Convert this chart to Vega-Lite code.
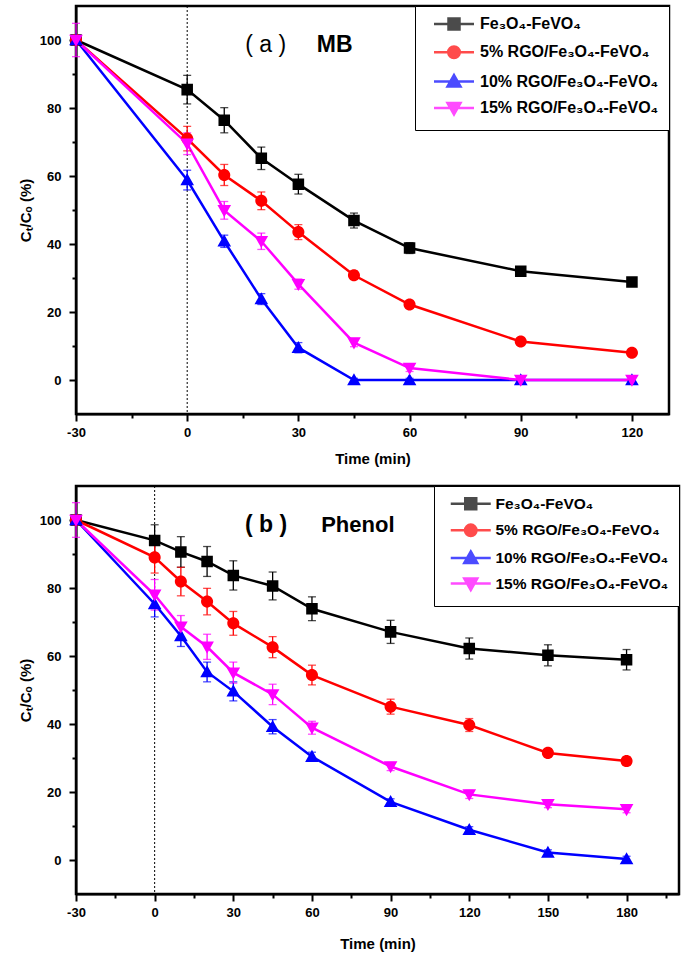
{
  "$schema": "https://vega.github.io/schema/vega-lite/v6.json",
  "padding": {"left": 17, "top": 4, "right": 5, "bottom": 4},
  "spacing": 16,
  "datasets": {
    "mb": [
      {"t": -30, "v": 100, "e": 0.8, "s": "Fe₃O₄-FeVO₄"},
      {"t": 0, "v": 85.4, "e": 4.2, "s": "Fe₃O₄-FeVO₄"},
      {"t": 10, "v": 76.4, "e": 3.7, "s": "Fe₃O₄-FeVO₄"},
      {"t": 20, "v": 65.2, "e": 3.3, "s": "Fe₃O₄-FeVO₄"},
      {"t": 30, "v": 57.6, "e": 2.9, "s": "Fe₃O₄-FeVO₄"},
      {"t": 45, "v": 46.9, "e": 2.2, "s": "Fe₃O₄-FeVO₄"},
      {"t": 60, "v": 38.8, "e": 1.6, "s": "Fe₃O₄-FeVO₄"},
      {"t": 90, "v": 32.0, "e": 1.2, "s": "Fe₃O₄-FeVO₄"},
      {"t": 120, "v": 28.8, "e": 1.1, "s": "Fe₃O₄-FeVO₄"},
      {"t": -30, "v": 100, "e": 0.8, "s": "5% RGO/Fe₃O₄-FeVO₄"},
      {"t": 0, "v": 71.0, "e": 3.6, "s": "5% RGO/Fe₃O₄-FeVO₄"},
      {"t": 10, "v": 60.3, "e": 3.1, "s": "5% RGO/Fe₃O₄-FeVO₄"},
      {"t": 20, "v": 52.7, "e": 2.6, "s": "5% RGO/Fe₃O₄-FeVO₄"},
      {"t": 30, "v": 43.5, "e": 2.2, "s": "5% RGO/Fe₃O₄-FeVO₄"},
      {"t": 45, "v": 30.8, "e": 1.2, "s": "5% RGO/Fe₃O₄-FeVO₄"},
      {"t": 60, "v": 22.2, "e": 1.0, "s": "5% RGO/Fe₃O₄-FeVO₄"},
      {"t": 90, "v": 11.3, "e": 1.1, "s": "5% RGO/Fe₃O₄-FeVO₄"},
      {"t": 120, "v": 8.0, "e": 1.0, "s": "5% RGO/Fe₃O₄-FeVO₄"},
      {"t": -30, "v": 100, "e": 0.8, "s": "10% RGO/Fe₃O₄-FeVO₄"},
      {"t": 0, "v": 58.8, "e": 2.9, "s": "10% RGO/Fe₃O₄-FeVO₄"},
      {"t": 10, "v": 40.8, "e": 1.8, "s": "10% RGO/Fe₃O₄-FeVO₄"},
      {"t": 20, "v": 23.8, "e": 1.6, "s": "10% RGO/Fe₃O₄-FeVO₄"},
      {"t": 30, "v": 9.5, "e": 1.5, "s": "10% RGO/Fe₃O₄-FeVO₄"},
      {"t": 45, "v": 0, "e": 0.5, "s": "10% RGO/Fe₃O₄-FeVO₄"},
      {"t": 60, "v": 0, "e": 0.5, "s": "10% RGO/Fe₃O₄-FeVO₄"},
      {"t": 90, "v": 0, "e": 0.5, "s": "10% RGO/Fe₃O₄-FeVO₄"},
      {"t": 120, "v": 0, "e": 0.5, "s": "10% RGO/Fe₃O₄-FeVO₄"},
      {"t": -30, "v": 100, "e": 4.9, "s": "15% RGO/Fe₃O₄-FeVO₄"},
      {"t": 0, "v": 69.5, "e": 3.2, "s": "15% RGO/Fe₃O₄-FeVO₄"},
      {"t": 10, "v": 49.9, "e": 2.6, "s": "15% RGO/Fe₃O₄-FeVO₄"},
      {"t": 20, "v": 40.8, "e": 2.4, "s": "15% RGO/Fe₃O₄-FeVO₄"},
      {"t": 30, "v": 28.2, "e": 1.5, "s": "15% RGO/Fe₃O₄-FeVO₄"},
      {"t": 45, "v": 11.0, "e": 1.2, "s": "15% RGO/Fe₃O₄-FeVO₄"},
      {"t": 60, "v": 3.5, "e": 1.0, "s": "15% RGO/Fe₃O₄-FeVO₄"},
      {"t": 90, "v": 0, "e": 0.8, "s": "15% RGO/Fe₃O₄-FeVO₄"},
      {"t": 120, "v": 0, "e": 0.8, "s": "15% RGO/Fe₃O₄-FeVO₄"}
    ],
    "ph": [
      {"t": -30, "v": 100, "e": 1.0, "s": "Fe₃O₄-FeVO₄"},
      {"t": 0, "v": 94.0, "e": 4.6, "s": "Fe₃O₄-FeVO₄"},
      {"t": 10, "v": 90.6, "e": 4.5, "s": "Fe₃O₄-FeVO₄"},
      {"t": 20, "v": 87.8, "e": 4.4, "s": "Fe₃O₄-FeVO₄"},
      {"t": 30, "v": 83.7, "e": 4.3, "s": "Fe₃O₄-FeVO₄"},
      {"t": 45, "v": 80.6, "e": 4.1, "s": "Fe₃O₄-FeVO₄"},
      {"t": 60, "v": 73.9, "e": 3.5, "s": "Fe₃O₄-FeVO₄"},
      {"t": 90, "v": 67.1, "e": 3.4, "s": "Fe₃O₄-FeVO₄"},
      {"t": 120, "v": 62.2, "e": 3.1, "s": "Fe₃O₄-FeVO₄"},
      {"t": 150, "v": 60.2, "e": 3.1, "s": "Fe₃O₄-FeVO₄"},
      {"t": 180, "v": 58.9, "e": 3.0, "s": "Fe₃O₄-FeVO₄"},
      {"t": -30, "v": 100, "e": 1.0, "s": "5% RGO/Fe₃O₄-FeVO₄"},
      {"t": 0, "v": 89.0, "e": 4.6, "s": "5% RGO/Fe₃O₄-FeVO₄"},
      {"t": 10, "v": 81.9, "e": 4.2, "s": "5% RGO/Fe₃O₄-FeVO₄"},
      {"t": 20, "v": 76.0, "e": 3.9, "s": "5% RGO/Fe₃O₄-FeVO₄"},
      {"t": 30, "v": 69.6, "e": 3.5, "s": "5% RGO/Fe₃O₄-FeVO₄"},
      {"t": 45, "v": 62.6, "e": 3.1, "s": "5% RGO/Fe₃O₄-FeVO₄"},
      {"t": 60, "v": 54.4, "e": 2.9, "s": "5% RGO/Fe₃O₄-FeVO₄"},
      {"t": 90, "v": 45.1, "e": 2.2, "s": "5% RGO/Fe₃O₄-FeVO₄"},
      {"t": 120, "v": 39.7, "e": 1.9, "s": "5% RGO/Fe₃O₄-FeVO₄"},
      {"t": 150, "v": 31.5, "e": 1.2, "s": "5% RGO/Fe₃O₄-FeVO₄"},
      {"t": 180, "v": 29.1, "e": 1.2, "s": "5% RGO/Fe₃O₄-FeVO₄"},
      {"t": -30, "v": 100, "e": 1.0, "s": "10% RGO/Fe₃O₄-FeVO₄"},
      {"t": 0, "v": 75.3, "e": 3.8, "s": "10% RGO/Fe₃O₄-FeVO₄"},
      {"t": 10, "v": 65.9, "e": 3.1, "s": "10% RGO/Fe₃O₄-FeVO₄"},
      {"t": 20, "v": 55.3, "e": 2.9, "s": "10% RGO/Fe₃O₄-FeVO₄"},
      {"t": 30, "v": 49.6, "e": 2.8, "s": "10% RGO/Fe₃O₄-FeVO₄"},
      {"t": 45, "v": 39.2, "e": 2.1, "s": "10% RGO/Fe₃O₄-FeVO₄"},
      {"t": 60, "v": 30.4, "e": 1.3, "s": "10% RGO/Fe₃O₄-FeVO₄"},
      {"t": 90, "v": 17.1, "e": 0.9, "s": "10% RGO/Fe₃O₄-FeVO₄"},
      {"t": 120, "v": 8.9, "e": 0.9, "s": "10% RGO/Fe₃O₄-FeVO₄"},
      {"t": 150, "v": 2.2, "e": 0.8, "s": "10% RGO/Fe₃O₄-FeVO₄"},
      {"t": 180, "v": 0.3, "e": 0.8, "s": "10% RGO/Fe₃O₄-FeVO₄"},
      {"t": -30, "v": 100, "e": 5.1, "s": "15% RGO/Fe₃O₄-FeVO₄"},
      {"t": 0, "v": 78.0, "e": 4.5, "s": "15% RGO/Fe₃O₄-FeVO₄"},
      {"t": 10, "v": 68.6, "e": 3.3, "s": "15% RGO/Fe₃O₄-FeVO₄"},
      {"t": 20, "v": 62.7, "e": 3.7, "s": "15% RGO/Fe₃O₄-FeVO₄"},
      {"t": 30, "v": 55.1, "e": 3.1, "s": "15% RGO/Fe₃O₄-FeVO₄"},
      {"t": 45, "v": 48.7, "e": 3.0, "s": "15% RGO/Fe₃O₄-FeVO₄"},
      {"t": 60, "v": 38.9, "e": 1.9, "s": "15% RGO/Fe₃O₄-FeVO₄"},
      {"t": 90, "v": 27.5, "e": 1.2, "s": "15% RGO/Fe₃O₄-FeVO₄"},
      {"t": 120, "v": 19.3, "e": 1.2, "s": "15% RGO/Fe₃O₄-FeVO₄"},
      {"t": 150, "v": 16.4, "e": 1.0, "s": "15% RGO/Fe₃O₄-FeVO₄"},
      {"t": 180, "v": 14.9, "e": 1.0, "s": "15% RGO/Fe₃O₄-FeVO₄"}
    ]
  },
  "resolve": {
    "scale": {"x": "independent", "y": "independent", "color": "independent", "shape": "independent"},
    "legend": {"color": "independent", "shape": "independent"}
  },
  "vconcat": [
    {
      "width": 593,
      "height": 408,
      "layer": [
        {
          "data": {"values": [{"t": 0}]},
          "mark": {"type": "rule", "color": "black", "strokeWidth": 1, "strokeDash": [2, 2]},
          "encoding": {"x": {"field": "t", "type": "quantitative", "title": "Time (min)"}}
        },
        {
          "data": {"name": "mb"},
          "mark": {"type": "line", "strokeWidth": 2.5},
          "encoding": {
            "x": {"field": "t", "type": "quantitative", "title": "Time (min)",
              "scale": {"domain": [-30, 130], "nice": false, "zero": false},
              "axis": {"values": [-30, -15, 0, 15, 30, 45, 60, 75, 90, 105, 120], "labelExpr": "datum.value % 30 == 0 ? '' + datum.value : ''", "tickSize": {"condition": {"test": "datum.value % 30 != 0", "value": 4}, "value": 7}, "labelPadding": 5, "titlePadding": 12, "labelFlush": false}},
            "y": {"field": "v", "type": "quantitative", "title": "Cₜ/Cₒ (%)",
              "scale": {"domain": [-10, 110], "nice": false, "zero": false},
              "axis": {"values": [0, 10, 20, 30, 40, 50, 60, 70, 80, 90, 100], "labelExpr": "datum.value % 20 == 0 ? datum.label : ''", "tickSize": {"condition": {"test": "datum.value % 20 != 0", "value": 4}, "value": 7}, "labelPadding": 8, "titlePadding": 6, "labelFlush": false}},
            "color": {"field": "s", "type": "nominal",
              "scale": {"domain": ["Fe₃O₄-FeVO₄", "5% RGO/Fe₃O₄-FeVO₄", "10% RGO/Fe₃O₄-FeVO₄", "15% RGO/Fe₃O₄-FeVO₄"], "range": ["#000000", "#ff0000", "#0000ff", "#ff00ff"]},
              "legend": {"title": null, "orient": "top-right", "offset": 0, "fillColor": "white", "strokeColor": "black", "padding": 10, "labelFont": "Liberation Sans", "labelFontSize": 16, "labelFontWeight": "bold", "labelColor": "black", "rowPadding": 6.3, "symbolOffset": 21, "labelOffset": 18, "symbolSize": 100, "symbolStrokeWidth": 2.5, "symbolOpacity": 1, "labelLimit": 400}
            }
          }
        },
        {
          "data": {"name": "mb"},
          "mark": {"type": "errorbar", "ticks": {"size": 8}, "thickness": 1.3},
          "encoding": {
            "x": {"field": "t", "type": "quantitative", "title": "Time (min)"},
            "y": {"field": "v", "type": "quantitative", "title": "Cₜ/Cₒ (%)"},
            "yError": {"field": "e"},
            "color": {"field": "s", "type": "nominal"}
          }
        },
        {
          "data": {"name": "mb"},
          "mark": {"type": "point", "filled": true, "opacity": 1, "size": 110, "strokeWidth": 0},
          "encoding": {
            "x": {"field": "t", "type": "quantitative", "title": "Time (min)"},
            "y": {"field": "v", "type": "quantitative", "title": "Cₜ/Cₒ (%)"},
            "color": {"field": "s", "type": "nominal"},
            "shape": {"field": "s", "type": "nominal",
              "scale": {"domain": ["Fe₃O₄-FeVO₄", "5% RGO/Fe₃O₄-FeVO₄", "10% RGO/Fe₃O₄-FeVO₄", "15% RGO/Fe₃O₄-FeVO₄"], "range": ["M-4,0L4,0M-1.1,-1.1L1.1,-1.1L1.1,1.1L-1.1,1.1Z", "M-4,0L4,0M1.15,0A1.15,1.15,0,1,1,-1.15,0A1.15,1.15,0,1,1,1.15,0Z", "M-4,0L4,0M0,-1.3L1.3,1L-1.3,1Z", "M-4,0L4,0M0,1.3L1.3,-1L-1.3,-1Z"]}}
          }
        },
        {
          "data": {"values": [{"t": 21.2, "v": 98.5, "label": "( a )"}]},
          "mark": {"type": "text", "font": "Liberation Sans", "fontSize": 23, "fontWeight": "normal", "color": "black", "baseline": "middle", "align": "center"},
          "encoding": {
            "x": {"field": "t", "type": "quantitative", "title": "Time (min)"},
            "y": {"field": "v", "type": "quantitative", "title": "Cₜ/Cₒ (%)"},
            "text": {"field": "label"}
          }
        },
        {
          "data": {"values": [{"t": 39.8, "v": 98.5, "label": "MB"}]},
          "mark": {"type": "text", "font": "Liberation Sans", "fontSize": 23, "fontWeight": "bold", "color": "black", "baseline": "middle", "align": "center"},
          "encoding": {
            "x": {"field": "t", "type": "quantitative", "title": "Time (min)"},
            "y": {"field": "v", "type": "quantitative", "title": "Cₜ/Cₒ (%)"},
            "text": {"field": "label"}
          }
        }
      ]
    },
    {
      "width": 603,
      "height": 408,
      "layer": [
        {
          "data": {"values": [{"t": 0}]},
          "mark": {"type": "rule", "color": "black", "strokeWidth": 1, "strokeDash": [2, 2]},
          "encoding": {"x": {"field": "t", "type": "quantitative", "title": "Time (min)"}}
        },
        {
          "data": {"name": "ph"},
          "mark": {"type": "line", "strokeWidth": 2.5},
          "encoding": {
            "x": {"field": "t", "type": "quantitative", "title": "Time (min)",
              "scale": {"domain": [-30, 200], "nice": false, "zero": false},
              "axis": {"values": [-30, -15, 0, 15, 30, 45, 60, 75, 90, 105, 120, 135, 150, 165, 180, 195], "labelExpr": "datum.value % 30 == 0 ? '' + datum.value : ''", "tickSize": {"condition": {"test": "datum.value % 30 != 0", "value": 4}, "value": 7}, "labelPadding": 5, "titlePadding": 17, "labelFlush": false}},
            "y": {"field": "v", "type": "quantitative", "title": "Cₜ/Cₒ (%)",
              "scale": {"domain": [-10, 110], "nice": false, "zero": false},
              "axis": {"values": [0, 10, 20, 30, 40, 50, 60, 70, 80, 90, 100], "labelExpr": "datum.value % 20 == 0 ? datum.label : ''", "tickSize": {"condition": {"test": "datum.value % 20 != 0", "value": 4}, "value": 7}, "labelPadding": 8, "titlePadding": 6, "labelFlush": false}},
            "color": {"field": "s", "type": "nominal",
              "scale": {"domain": ["Fe₃O₄-FeVO₄", "5% RGO/Fe₃O₄-FeVO₄", "10% RGO/Fe₃O₄-FeVO₄", "15% RGO/Fe₃O₄-FeVO₄"], "range": ["#000000", "#ff0000", "#0000ff", "#ff00ff"]},
              "legend": {"title": null, "orient": "top-right", "offset": 0, "fillColor": "white", "strokeColor": "black", "padding": 10, "labelFont": "Liberation Sans", "labelFontSize": 15.5, "labelFontWeight": "bold", "labelColor": "black", "rowPadding": 4.6, "symbolOffset": 19, "labelOffset": 17, "symbolSize": 100, "symbolStrokeWidth": 2.5, "symbolOpacity": 1, "labelLimit": 400}
            }
          }
        },
        {
          "data": {"name": "ph"},
          "mark": {"type": "errorbar", "ticks": {"size": 8}, "thickness": 1.3},
          "encoding": {
            "x": {"field": "t", "type": "quantitative", "title": "Time (min)"},
            "y": {"field": "v", "type": "quantitative", "title": "Cₜ/Cₒ (%)"},
            "yError": {"field": "e"},
            "color": {"field": "s", "type": "nominal"}
          }
        },
        {
          "data": {"name": "ph"},
          "mark": {"type": "point", "filled": true, "opacity": 1, "size": 110, "strokeWidth": 0},
          "encoding": {
            "x": {"field": "t", "type": "quantitative", "title": "Time (min)"},
            "y": {"field": "v", "type": "quantitative", "title": "Cₜ/Cₒ (%)"},
            "color": {"field": "s", "type": "nominal"},
            "shape": {"field": "s", "type": "nominal",
              "scale": {"domain": ["Fe₃O₄-FeVO₄", "5% RGO/Fe₃O₄-FeVO₄", "10% RGO/Fe₃O₄-FeVO₄", "15% RGO/Fe₃O₄-FeVO₄"], "range": ["M-4,0L4,0M-1.1,-1.1L1.1,-1.1L1.1,1.1L-1.1,1.1Z", "M-4,0L4,0M1.15,0A1.15,1.15,0,1,1,-1.15,0A1.15,1.15,0,1,1,1.15,0Z", "M-4,0L4,0M0,-1.3L1.3,1L-1.3,1Z", "M-4,0L4,0M0,1.3L1.3,-1L-1.3,-1Z"]}}
          }
        },
        {
          "data": {"values": [{"t": 42.5, "v": 98.5, "label": "( b )"}]},
          "mark": {"type": "text", "font": "Liberation Sans", "fontSize": 23, "fontWeight": "bold", "color": "black", "baseline": "middle", "align": "center"},
          "encoding": {
            "x": {"field": "t", "type": "quantitative", "title": "Time (min)"},
            "y": {"field": "v", "type": "quantitative", "title": "Cₜ/Cₒ (%)"},
            "text": {"field": "label"}
          }
        },
        {
          "data": {"values": [{"t": 77.5, "v": 98.5, "label": "Phenol"}]},
          "mark": {"type": "text", "font": "Liberation Sans", "fontSize": 22, "fontWeight": "bold", "color": "black", "baseline": "middle", "align": "center"},
          "encoding": {
            "x": {"field": "t", "type": "quantitative", "title": "Time (min)"},
            "y": {"field": "v", "type": "quantitative", "title": "Cₜ/Cₒ (%)"},
            "text": {"field": "label"}
          }
        }
      ]
    }
  ],
  "config": {
    "view": {"stroke": "black", "strokeWidth": 2.5},
    "axis": {"domainColor": "black", "domainWidth": 2, "tickColor": "black", "tickWidth": 2, "grid": false,
      "labelFont": "Liberation Sans", "labelFontSize": 13, "labelFontWeight": "bold", "labelColor": "black",
      "titleFont": "Liberation Sans", "titleFontSize": 15, "titleFontWeight": "bold", "titleColor": "black"}
  }
}
